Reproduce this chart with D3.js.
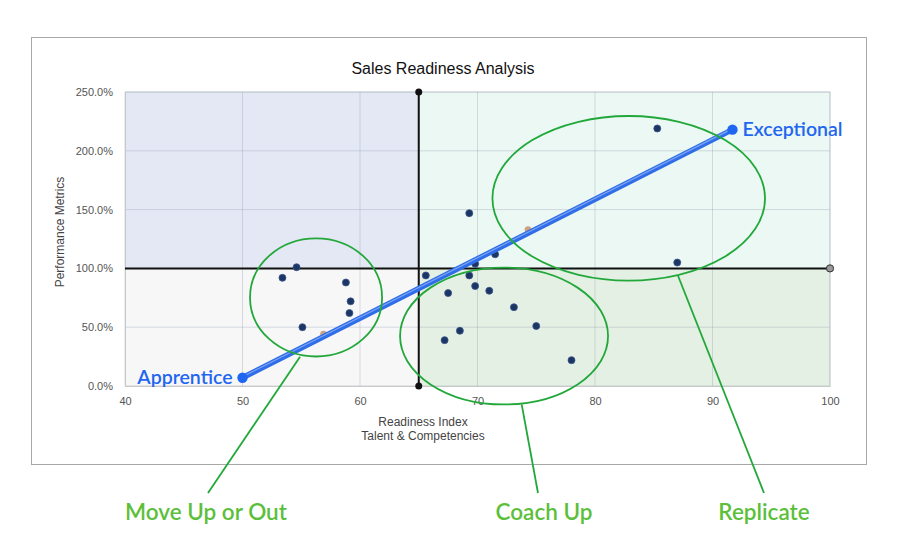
<!DOCTYPE html>
<html><head><meta charset="utf-8">
<script src="https://cdn.jsdelivr.net/npm/d3@7"></script>
<style>
html,body{margin:0;padding:0;background:#fff;}
svg{display:block;font-family:"Liberation Sans",Arial,sans-serif;}
</style></head>
<body>
<svg id="c" width="900" height="558"></svg>
<script>
// ---- data ----
const xTicks = [40, 50, 60, 70, 80, 90, 100];
const yTicks = [0, 50, 100, 150, 200, 250];
const xDivider = 65;
const yDivider = 100;
const repX = [53.4, 54.6, 55.1, 58.8, 59.2, 59.1, 65.6, 67.5, 69.3, 69.8, 71.5, 69.8, 71.0, 73.1, 75.0, 68.5, 67.2, 78.0, 87.0, 69.3, 85.3];
const repY = [92, 101, 50, 88, 72, 62, 94, 79, 94, 104, 112, 85, 81, 67, 51, 47, 39, 22, 105, 147, 219];
const avgX = [56.9, 74.3];
const avgY = [44, 133];
const trendX = [50, 91.7];
const trendY = [7, 218];
const trendLabels = ["Apprentice", "Exceptional"];
const groupNames = ["Move Up or Out", "Coach Up", "Replicate"];
const groupCx = [56.26, 72.26, 82.87];
const groupCy = [75.3, 42.5, 159.6];
const groupRx = [5.62, 8.85, 11.6];
const groupRy = [50.2, 58.2, 70.0];
const calloutX = [54.9, 73.76, 87.04];
const calloutY = [24.9, -15.6, 94.4];

// ---- layout ----
const W = 900, H = 558;
const L = 125, R = 830, T = 92, B = 386;
const svg = d3.select("#c");
const x = d3.scaleLinear().domain([40, 100]).range([L, R]);
const y = d3.scaleLinear().domain([0, 250]).range([B, T]);

// frame
svg.append("rect").attr("x", 31.5).attr("y", 37.5).attr("width", 835).attr("height", 427)
  .attr("fill", "#fff").attr("stroke", "#a8a8a8").attr("stroke-width", 1);

// title
svg.append("text").attr("x", 443).attr("y", 74).attr("text-anchor", "middle")
  .attr("font-size", 16).attr("fill", "#111").text("Sales Readiness Analysis");

// quadrants
const quads = [
  {x0: 40, x1: xDivider, y0: yDivider, y1: 250, c: "#e3e8f4"},
  {x0: xDivider, x1: 100, y0: yDivider, y1: 250, c: "#ebf8f3"},
  {x0: 40, x1: xDivider, y0: 0, y1: yDivider, c: "#f7f7f8"},
  {x0: xDivider, x1: 100, y0: 0, y1: yDivider, c: "#e5f0e4"}
];
svg.append("g").selectAll("rect").data(quads).join("rect")
  .attr("x", d => x(d.x0)).attr("y", d => y(d.y1))
  .attr("width", d => x(d.x1) - x(d.x0)).attr("height", d => y(d.y0) - y(d.y1))
  .attr("fill", d => d.c);

// grid
const grid = svg.append("g");
grid.selectAll("line.v").data(xTicks.slice(1)).join("line")
  .attr("x1", d => x(d)).attr("x2", d => x(d)).attr("y1", T).attr("y2", B)
  .attr("stroke", "rgba(150,160,175,0.35)").attr("stroke-width", 1);
grid.selectAll("line.h").data(yTicks.slice(1)).join("line")
  .attr("x1", L).attr("x2", R).attr("y1", d => y(d)).attr("y2", d => y(d))
  .attr("stroke", "rgba(150,160,175,0.35)").attr("stroke-width", 1);
svg.append("rect").attr("x", L).attr("y", T).attr("width", R - L).attr("height", B - T)
  .attr("fill", "none").attr("stroke", "rgba(150,160,175,0.4)");

// axes
const xAxis = svg.append("g").attr("transform", `translate(0,${B})`)
  .call(d3.axisBottom(x).tickValues(xTicks).tickSize(0).tickPadding(11));
xAxis.select(".domain").attr("stroke", "#c8c8c8");
xAxis.selectAll("text").attr("font-size", 11).attr("fill", "#555").attr("font-family", "Liberation Sans, Arial, sans-serif");
const yAxis = svg.append("g").attr("transform", `translate(${L},0)`)
  .call(d3.axisLeft(y).tickValues(yTicks).tickSize(0).tickPadding(12).tickFormat(d => d.toFixed(1) + "%"));
yAxis.select(".domain").attr("stroke", "#c8c8c8");
yAxis.selectAll("text").attr("font-size", 11).attr("fill", "#555").attr("font-family", "Liberation Sans, Arial, sans-serif");

// axis titles
svg.append("text").attr("transform", `translate(64,${232}) rotate(-90)`).attr("text-anchor", "middle")
  .attr("font-size", 12).attr("fill", "#444").text("Performance Metrics");
svg.append("text").attr("x", 423).attr("y", 426).attr("text-anchor", "middle")
  .attr("font-size", 12).attr("fill", "#444").text("Readiness Index");
svg.append("text").attr("x", 423).attr("y", 440).attr("text-anchor", "middle")
  .attr("font-size", 12).attr("fill", "#444").text("Talent & Competencies");

// divider lines
svg.append("line").attr("x1", x(40)).attr("x2", x(100)).attr("y1", y(yDivider)).attr("y2", y(yDivider))
  .attr("stroke", "#111").attr("stroke-width", 2);
svg.append("line").attr("x1", x(xDivider)).attr("x2", x(xDivider)).attr("y1", y(0)).attr("y2", y(250))
  .attr("stroke", "#111").attr("stroke-width", 2);
svg.append("circle").attr("cx", x(xDivider)).attr("cy", y(250)).attr("r", 3.5).attr("fill", "#111");
svg.append("circle").attr("cx", x(xDivider)).attr("cy", y(0)).attr("r", 3.5).attr("fill", "#111");
svg.append("circle").attr("cx", x(100)).attr("cy", y(yDivider)).attr("r", 3.6).attr("fill", "#999").attr("stroke", "#333").attr("stroke-width", 1);

// points
const pts = repX.map((v, i) => ({x: v, y: repY[i]}));
svg.append("g").selectAll("circle").data(pts).join("circle")
  .attr("cx", d => x(d.x)).attr("cy", d => y(d.y)).attr("r", 3.5)
  .attr("fill", "#1b3565").attr("stroke", "#3a5688").attr("stroke-width", 0.8);
const apts = avgX.map((v, i) => ({x: v, y: avgY[i]}));
svg.append("g").selectAll("circle").data(apts).join("circle")
  .attr("cx", d => x(d.x)).attr("cy", d => y(d.y)).attr("r", 3.4)
  .attr("fill", "#c9926a").attr("opacity", 0.85);

// trend line
const tl = trendX.map((v, i) => ({x: v, y: trendY[i], label: trendLabels[i]}));
const line = d3.line().x(d => x(d.x)).y(d => y(d.y));
svg.append("path").datum(tl).attr("d", line).attr("stroke", "#2f6ee8").attr("stroke-width", 5.5).attr("fill", "none");
svg.append("path").datum(tl).attr("d", line).attr("stroke", "#7ea6f2").attr("stroke-width", 1.2).attr("fill", "none")
  .attr("transform", "translate(0,-1)");
svg.append("g").selectAll("circle").data(tl).join("circle")
  .attr("cx", d => x(d.x)).attr("cy", d => y(d.y)).attr("r", 5.2).attr("fill", "#1f66f0");
svg.append("g").selectAll("text").data(tl).join("text")
  .attr("x", (d, i) => x(d.x) + (i === 0 ? -10 : 10))
  .attr("y", d => y(d.y) + 6.5)
  .attr("text-anchor", (d, i) => i === 0 ? "end" : "start")
  .attr("font-family", "Lato, 'Open Sans', sans-serif").attr("font-weight", 600)
  .attr("font-size", 19.5).attr("fill", "#1f66f0").text(d => d.label);

// group ellipses + callouts
const groups = groupNames.map((n, i) => ({
  name: n, cx: groupCx[i], cy: groupCy[i], rx: groupRx[i], ry: groupRy[i],
  sx: calloutX[i], sy: calloutY[i]
}));
const labelPos = [{x: 206, y: 520}, {x: 544, y: 520}, {x: 764, y: 520}];
const endPos = [{x: 208, y: 493}, {x: 538, y: 493}, {x: 764, y: 493}];
const gG = svg.append("g");
gG.selectAll("ellipse").data(groups).join("ellipse")
  .attr("cx", d => x(d.cx)).attr("cy", d => y(d.cy))
  .attr("rx", d => x(d.cx + d.rx) - x(d.cx)).attr("ry", d => y(d.cy - d.ry) - y(d.cy))
  .attr("fill", "none").attr("stroke", "#22a83a").attr("stroke-width", 1.8);
gG.selectAll("line").data(groups).join("line")
  .attr("x1", d => x(d.sx)).attr("y1", d => y(d.sy))
  .attr("x2", (d, i) => endPos[i].x).attr("y2", (d, i) => endPos[i].y)
  .attr("stroke", "#22a83a").attr("stroke-width", 1.8);
gG.selectAll("text").data(groups).join("text")
  .attr("x", (d, i) => labelPos[i].x).attr("y", (d, i) => labelPos[i].y)
  .attr("text-anchor", "middle").attr("font-family", "Lato, 'Open Sans', sans-serif")
  .attr("font-weight", 600).attr("font-size", 22.5).attr("fill", "#5cbf3c").text(d => d.name);
</script>
</body></html>
